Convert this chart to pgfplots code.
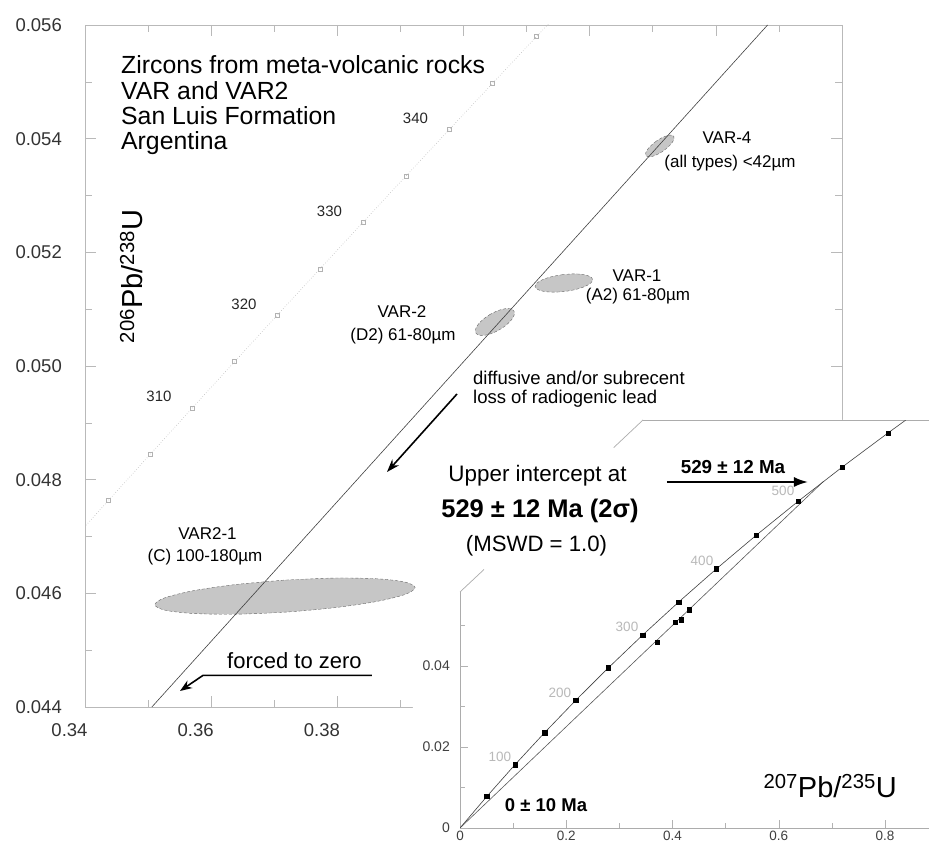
\documentclass[border=0pt]{standalone}
\usepackage{fontspec}
\setmainfont{Liberation Sans}
\usepackage{pgfplots}
\pgfplotsset{compat=1.18}
\usetikzlibrary{arrows.meta}
\newcommand{\fs}[1]{\fontsize{#1bp}{#1bp}\selectfont}
\begin{document}
\begin{tikzpicture}
% ---------------- main concordia diagram ----------------
\begin{axis}[
  at={(0,0)}, anchor=south west,
  scale only axis, width=757bp, height=682bp,
  xmin=0.34, xmax=0.46, ymin=0.044, ymax=0.056,
  scaled ticks=false,
  xtick={0.34,0.36,0.38,0.40,0.42,0.44,0.46},
  xticklabels={0.34,0.36,0.38,,,,},
  minor xtick={0.35,0.37,0.39,0.41,0.43,0.45},
  ytick={0.044,0.046,0.048,0.050,0.052,0.054,0.056},
  yticklabels={0.044,0.046,0.048,0.050,0.052,0.054,0.056},
  minor ytick={0.045,0.047,0.049,0.051,0.053,0.055},
  tick align=inside,
  major tick length=11bp, minor tick length=7bp,
  axis line style={gray!55, line width=0.6pt},
  every tick/.style={gray!55, line width=0.6pt},
  xticklabel style={font=\fs{18.5}, text=black!80, inner sep=0pt, xshift=-15.5bp, yshift=-16.5bp},
  yticklabel style={font=\fs{18.5}, text=black!80, inner sep=0pt, xshift=-23bp},
]
% concordia (dotted) with age markers every 5 Ma
\addplot[gray!55, dotted, line width=0.6pt] coordinates {
(0.337137,0.046825) (0.343738,0.047637) (0.350371,0.048450) (0.357037,0.049264)
(0.363736,0.050078) (0.370468,0.050893) (0.377233,0.051708) (0.384031,0.052524)
(0.390864,0.053341) (0.397729,0.054158) (0.404629,0.054976) (0.411563,0.055795)
(0.418531,0.056614)};
\addplot[only marks, mark=square, mark size=2bp, gray!60, mark options={line width=0.5pt}] coordinates {
(0.343738,0.047637) (0.350371,0.048450) (0.357037,0.049264)
(0.363736,0.050078) (0.370468,0.050893) (0.377233,0.051708) (0.384031,0.052524)
(0.390864,0.053341) (0.397729,0.054158) (0.404629,0.054976) (0.411563,0.055795)};
% error ellipses
\addplot[fill=gray!45, draw=black!60, densely dashed, line width=0.4pt, smooth] coordinates {
(0.371528,0.046232) (0.363644,0.046152) (0.356985,0.046042) (0.352566,0.045918)
(0.351060,0.045799) (0.352694,0.045703) (0.357223,0.045645) (0.363954,0.045633)
(0.371864,0.045670) (0.379748,0.045750) (0.386407,0.045860) (0.390826,0.045984)
(0.392332,0.046103) (0.390698,0.046199) (0.386169,0.046257) (0.379438,0.046269)
(0.371528,0.046232)};
\addplot[fill=gray!45, draw=black!60, densely dashed, line width=0.4pt, smooth] coordinates {
(0.415747,0.051608) (0.414013,0.051573) (0.412570,0.051521) (0.411634,0.051459)
(0.411350,0.051398) (0.411760,0.051346) (0.412802,0.051311) (0.414317,0.051299)
(0.416075,0.051312) (0.417809,0.051347) (0.419252,0.051399) (0.420188,0.051461)
(0.420472,0.051522) (0.420062,0.051574) (0.419020,0.051609) (0.417505,0.051621)
(0.415747,0.051608)};
\addplot[fill=gray!45, draw=black!60, densely dashed, line width=0.4pt, smooth] coordinates {
(0.404263,0.050911) (0.403162,0.050827) (0.402337,0.050734) (0.401914,0.050648)
(0.401957,0.050581) (0.402460,0.050543) (0.403345,0.050540) (0.404480,0.050573)
(0.405689,0.050637) (0.406790,0.050721) (0.407615,0.050814) (0.408038,0.050900)
(0.407995,0.050968) (0.407492,0.051005) (0.406607,0.051008) (0.405472,0.050975)
(0.404263,0.050911)};
\addplot[fill=gray!45, draw=black!60, densely dashed, line width=0.4pt, smooth] coordinates {
(0.430580,0.053958) (0.429776,0.053885) (0.429179,0.053811) (0.428876,0.053746)
(0.428917,0.053699) (0.429294,0.053679) (0.429949,0.053688) (0.430784,0.053725)
(0.431670,0.053784) (0.432474,0.053857) (0.433071,0.053931) (0.433374,0.053996)
(0.433333,0.054043) (0.432956,0.054063) (0.432301,0.054054) (0.431466,0.054017)
(0.430580,0.053958)};
% discordia
\addplot[black!75, line width=0.6pt] coordinates {(0.3506,0.044) (0.4482,0.056)};
\end{axis}
% ---------------- white inset background and frame ----------------
\begin{scope}[shift={(-85bp,707bp)}, x=1bp, y=-1bp]
\fill[white] (413,850) -- (413,636) -- (643,420) -- (935,420) -- (935,850) -- cycle;
\draw[gray!65, line width=0.7bp] (460,592) -- (460,828) -- (935,828);
\draw[gray!65, line width=0.7bp] (643,420) -- (935,420);
\draw[gray!65, line width=0.7bp] (460,592) -- (484,569.5);
\draw[gray!65, line width=0.7bp] (613.7,447.6) -- (643,420);
\end{scope}
% ---------------- inset: full concordia ----------------
\begin{axis}[
  at={(375bp,-121bp)}, anchor=south west,
  scale only axis, width=478.125bp, height=407.8bp,
  xmin=0, xmax=0.9, ymin=0, ymax=0.1007,
  scaled ticks=false,
  axis line style={draw=none},
  xtick={0,0.2,0.4,0.6,0.8}, xticklabels={0,0.2,0.4,0.6,0.8},
  minor xtick={0.1,0.3,0.5,0.7},
  ytick={0,0.02,0.04}, yticklabels={0,0.02,0.04},
  minor ytick={0.01,0.03,0.05},
  tick pos=left, tick align=inside,
  major tick length=8bp, minor tick length=5bp,
  every tick/.style={gray!60, line width=0.5pt},
  xticklabel style={font=\fs{13.5}, text=black!75, inner sep=0pt, yshift=-3bp},
  yticklabel style={font=\fs{14}, text=black!75, inner sep=0pt, xshift=-10bp},
]
\addplot[gray!70!black, line width=0.6pt] coordinates {(0,0) (0.68366,0.085522)};
\addplot[black!75, line width=0.6pt] coordinates {
(0,0) (0.050475,0.007786) (0.103498,0.015633) (0.159197,0.023542) (0.217708,0.031511)
(0.279171,0.039543) (0.343738,0.047637) (0.411563,0.055795) (0.482812,0.064016)
(0.557657,0.072300) (0.636280,0.080650) (0.718871,0.089064) (0.805631,0.097544)
(0.838776,0.100700)};
\addplot[only marks, mark=square*, mark size=2.2bp, black] coordinates {
(0.050475,0.007786) (0.103498,0.015633) (0.159197,0.023542) (0.217708,0.031511)
(0.279171,0.039543) (0.343738,0.047637) (0.411563,0.055795) (0.482812,0.064016)
(0.557657,0.072300) (0.636280,0.080650) (0.718871,0.089064) (0.805631,0.097544)};
\addplot[only marks, mark=square*, mark size=2.2bp, black] coordinates {
(0.371696,0.045951) (0.404976,0.050774) (0.415911,0.051460) (0.431125,0.053871)};
\end{axis}
% ---------------- annotations (pixel frame of the reference) ----------------
\begin{scope}[shift={(-85bp,707bp)}, x=1bp, y=-1bp]
\node[anchor=base west, inner sep=0pt, font=\fs{24.8}] at (121,74) {Zircons from meta-volcanic rocks};
\node[anchor=base west, inner sep=0pt, font=\fs{24.8}] at (121,99.3) {VAR and VAR2};
\node[anchor=base west, inner sep=0pt, font=\fs{24.8}] at (121,124.6) {San Luis Formation};
\node[anchor=base west, inner sep=0pt, font=\fs{24.8}] at (121,149.9) {Argentina};
\node[rotate=90, anchor=base, inner sep=0pt, font=\fs{29}] at (143,276.5) {\textsuperscript{206}Pb/\textsuperscript{238}U};
% concordia age labels
\node[inner sep=0pt, font=\fs{15}, text=black!85] at (159,396.5) {310};
\node[inner sep=0pt, font=\fs{15}, text=black!85] at (244,304) {320};
\node[inner sep=0pt, font=\fs{15}, text=black!85] at (329.5,211.5) {330};
\node[inner sep=0pt, font=\fs{15}, text=black!85] at (415.5,118.5) {340};
% sample labels
\node[anchor=base, inner sep=0pt, font=\fs{17}] at (727,144) {VAR-4};
\node[anchor=base, inner sep=0pt, font=\fs{17}] at (730,168) {(all types) <42µm};
\node[anchor=base, inner sep=0pt, font=\fs{17}] at (637,281.5) {VAR-1};
\node[anchor=base, inner sep=0pt, font=\fs{17}] at (638,301) {(A2) 61-80µm};
\node[anchor=base, inner sep=0pt, font=\fs{17}] at (402,318) {VAR-2};
\node[anchor=base, inner sep=0pt, font=\fs{17}] at (403,341) {(D2) 61-80µm};
\node[anchor=base, inner sep=0pt, font=\fs{17}] at (207.5,539.8) {VAR2-1};
\node[anchor=base, inner sep=0pt, font=\fs{17}] at (205,561.5) {(C) 100-180µm};
\node[anchor=base west, inner sep=0pt, font=\fs{18.5}] at (473,385) {diffusive and/or subrecent};
\node[anchor=base west, inner sep=0pt, font=\fs{18.5}] at (473,403.5) {loss of radiogenic lead};
\node[anchor=base west, inner sep=0pt, font=\fs{22}] at (227,669) {forced to zero};
\node[anchor=base, inner sep=0pt, font=\fs{22.4}] at (537.5,482) {Upper intercept at};
\node[anchor=base, inner sep=0pt, font=\fs{25.5}\bfseries] at (540,518) {529 ± 12 Ma (2σ)};
\node[anchor=base, inner sep=0pt, font=\fs{22.2}] at (536.5,552) {(MSWD = 1.0)};
\node[anchor=base, inner sep=0pt, font=\fs{18.8}\bfseries] at (733,474) {529 ± 12 Ma};
\node[anchor=base, inner sep=0pt, font=\fs{18.5}\bfseries] at (546,812) {0 ± 10 Ma};
\node[anchor=base east, inner sep=0pt, font=\fs{29}] at (897,798) {\textsuperscript{207}Pb/\textsuperscript{235}U};
% inset age labels
\node[inner sep=0pt, font=\fs{13.5}, text=gray!55] at (500,757) {100};
\node[inner sep=0pt, font=\fs{13.5}, text=gray!55] at (560,693) {200};
\node[inner sep=0pt, font=\fs{13.5}, text=gray!55] at (627,627) {300};
\node[inner sep=0pt, font=\fs{13.5}, text=gray!55] at (702,561) {400};
\node[inner sep=0pt, font=\fs{13.5}, text=gray!55] at (783,491) {500};
% arrows
\draw[line width=1.6bp, -{Stealth[length=13bp,width=9bp]}] (457,394) -- (387,472);
\draw[line width=1.6bp, -{Stealth[length=12bp,width=9bp]}] (372,675.4) -- (203,675.4) -- (180,691);
\draw[line width=2bp, -{Latex[length=14bp,width=10bp]}] (667,482) -- (808,482);
\end{scope}
\pgfresetboundingbox
\path (-85bp,-138bp) rectangle (844bp,707bp);
\end{tikzpicture}
\end{document}
